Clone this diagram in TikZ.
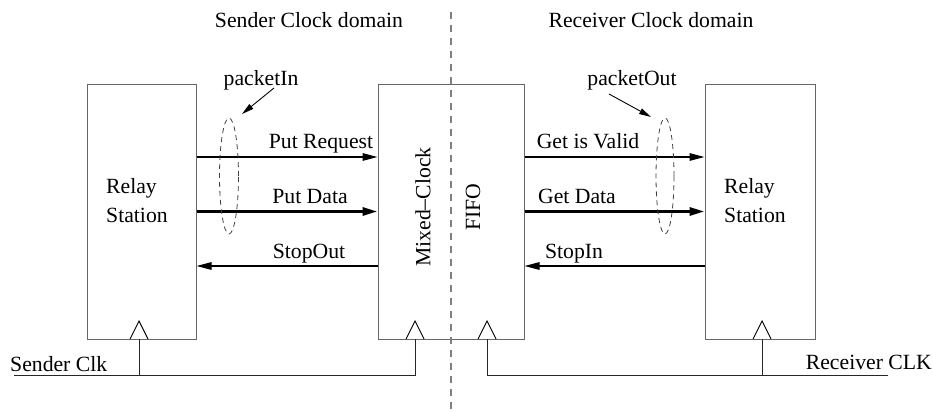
\documentclass[tikz,border=0pt]{standalone}
\usepackage{fontspec}
\setmainfont{Liberation Serif}
\usetikzlibrary{arrows.meta,calc,shapes.geometric}
\begin{document}
\begin{tikzpicture}[x=1pt,y=-1pt,
  every node/.style={font=\fontsize{21.7}{29}\selectfont, inner sep=0pt},
  block/.style={draw=black!60, line width=1pt, minimum height=255pt},
  sig/.style={line width=1.4pt, -{Triangle[length=15pt,width=7.5pt]}},
  bus/.style={line width=3pt, -{Triangle[length=15pt,width=8pt]}},
  clk/.style={line width=0.9pt, draw=black!85},
  tri/.style={line width=0.9pt, draw=black},
  grp/.style={draw=black!75, line width=0.8pt, dash pattern=on 5pt off 4pt},
  pointer/.style={line width=0.9pt, -{Triangle[length=12pt,width=6pt]}},
  divider/.style={draw=black!50, line width=2pt, dash pattern=on 7pt off 6pt}
]
\useasboundingbox (0,0) rectangle (933,412);

% blocks
\node[block, minimum width=109pt] (L) at (141.5,211.5) {};
\node[block, minimum width=146pt] (M) at (451,211.5) {};
\node[block, minimum width=110pt] (R) at (760,211.5) {};

% divider
\coordinate (dtop) at (451,12);
\coordinate (dbot) at (451,412);
\draw[divider] (dtop) -- (dbot);

% domain labels
\node[anchor=base] (sdom) at (309,28) {Sender Clock domain};
\node[anchor=base] (rdom) at (651,28) {Receiver Clock domain};

% block texts
\node[anchor=west, align=left] (Ltext) at (106,201) {Relay\\Station};
\node[anchor=west, align=left] (Rtext) at (724,201) {Relay\\Station};
\node[rotate=90] (mixed) at (423,207) {Mixed\textendash Clock};
\node[rotate=90] (fifo) at (473,207) {FIFO};

% signals left
\draw[sig] ([yshift=54.5pt]L.east) -- ([yshift=54.5pt]M.west);
\draw[bus] (L.east) -- (M.west);
\draw[sig] ([yshift=-54.5pt]M.west) -- ([yshift=-54.5pt]L.east);
\node[anchor=base] (preq) at (321,148) {Put Request};
\node[anchor=base] (pdat) at (310,203) {Put Data};
\node[anchor=base] (sout) at (309,258) {StopOut};

% signals right
\draw[sig] ([yshift=54.5pt]M.east) -- ([yshift=54.5pt]R.west);
\draw[bus] (M.east) -- (R.west);
\draw[sig] ([yshift=-54.5pt]R.west) -- ([yshift=-54.5pt]M.east);
\node[anchor=base] (gval) at (588,148) {Get is Valid};
\node[anchor=base] (gdat) at (577,203) {Get Data};
\node[anchor=base] (sin) at (574,258) {StopIn};

% packet groups
\node[grp, ellipse, minimum width=19pt, minimum height=116pt] (pin) at (229,176) {};
\node[grp, ellipse, minimum width=18pt, minimum height=116pt] (pout) at (665,176) {};
\node[anchor=base] (pinl) at (261,85) {packetIn};
\node[anchor=base] (poutl) at (632,85) {packetOut};
\coordinate (pinA) at (274,88);
\coordinate (pinB) at (242,114);
\coordinate (poutA) at (609,94);
\coordinate (poutB) at (651,117);
\draw[pointer] (pinA) -- (pinB);
\draw[pointer] (poutA) -- (poutB);

% clock triangles
\draw[tri] (130,339) -- (139,321) -- (148,339);
\draw[tri] (406,339) -- (415,321) -- (424,339);
\draw[tri] (478,339) -- (487,321) -- (496,339);
\draw[tri] (753,339) -- (762,321) -- (771,339);

% clock lines
\coordinate (sclk0) at (14,375);
\coordinate (sclk1) at (415,375);
\coordinate (rclk0) at (487,375);
\coordinate (rclk1) at (888,375);
\draw[clk] (sclk0) -- (sclk1) -- (415,339);
\draw[clk] (139,375) -- (139,339);
\draw[clk] (rclk1) -- (rclk0) -- (487,339);
\draw[clk] (762,375) -- (762,339);
\node[anchor=base west] (sclkl) at (10,371) {Sender Clk};
\node[anchor=base east] (rclkl) at (932,369) {Receiver CLK};
\end{tikzpicture}
\end{document}
